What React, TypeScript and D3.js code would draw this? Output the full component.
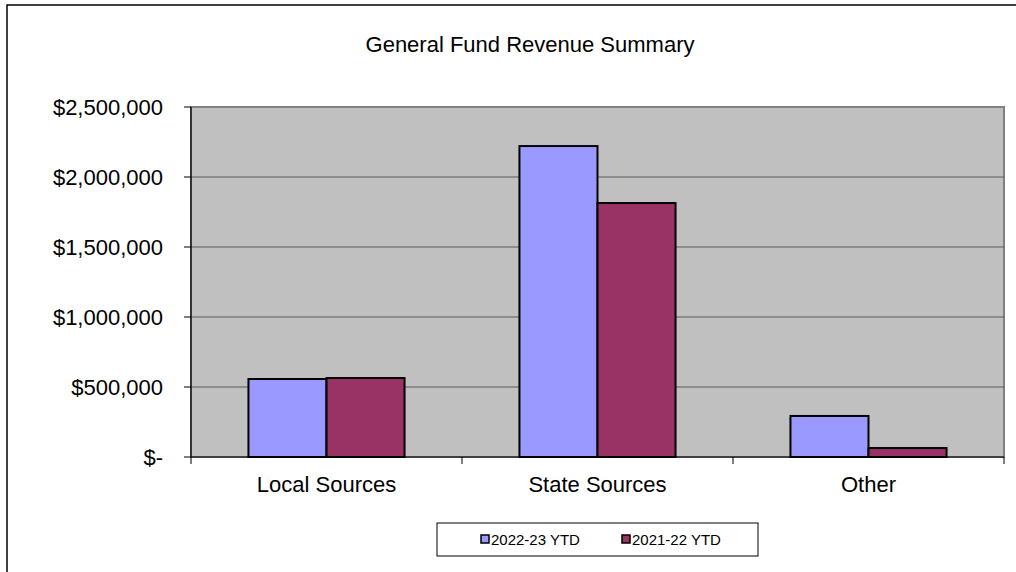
import React, { useEffect, useRef } from 'react';
import * as d3 from 'd3';

const categories = ['Local Sources', 'State Sources', 'Other'];
const seriesNames = ['2022-23 YTD', '2021-22 YTD'];
const current = [557000, 2221000, 293000];
const prior = [564000, 1814000, 64000];
const yTicks = [0, 500000, 1000000, 1500000, 2000000, 2500000];
const colors = ['#9999FF', '#993366'];

const font = 'Arial, "Liberation Sans", sans-serif';

const App: React.FC = () => {
  const svgRef = useRef<SVGSVGElement>(null);
  const width = 1016;
  const height = 572;

  useEffect(() => {
    if (!svgRef.current) return;
    const svg = d3.select(svgRef.current);
    svg.selectAll('*').remove();

    const plot = { left: 191, right: 1004, top: 107, bottom: 457 };

    // outer chart border (extends off right/bottom)
    svg.append('rect')
      .attr('x', 7).attr('y', 5)
      .attr('width', width + 10).attr('height', height + 10)
      .attr('fill', '#fff').attr('stroke', '#000').attr('stroke-width', 1.5);

    svg.append('text')
      .attr('x', 530).attr('y', 52)
      .attr('text-anchor', 'middle')
      .attr('font-family', font).attr('font-size', 22)
      .text('General Fund Revenue Summary');

    const x = d3.scaleBand().domain(categories).range([plot.left, plot.right]);
    const y = d3.scaleLinear().domain([0, 2500000]).range([plot.bottom, plot.top]);
    const barW = x.bandwidth() * 0.288;

    // plot area
    svg.append('rect')
      .attr('x', plot.left).attr('y', plot.top)
      .attr('width', plot.right - plot.left).attr('height', plot.bottom - plot.top)
      .attr('fill', '#C0C0C0').attr('stroke', '#808080').attr('stroke-width', 2);

    // gridlines
    yTicks.slice(1, -1).forEach(t => {
      svg.append('line')
        .attr('x1', plot.left).attr('x2', plot.right)
        .attr('y1', y(t)).attr('y2', y(t))
        .attr('stroke', '#5a5a5a').attr('stroke-width', 1.2);
    });

    // y-axis
    svg.append('line')
      .attr('x1', plot.left).attr('x2', plot.left)
      .attr('y1', plot.top).attr('y2', plot.bottom)
      .attr('stroke', '#000').attr('stroke-width', 1.2);
    yTicks.forEach(t => {
      svg.append('line')
        .attr('x1', plot.left - 7).attr('x2', plot.left)
        .attr('y1', y(t)).attr('y2', y(t))
        .attr('stroke', '#000').attr('stroke-width', 1);
      svg.append('text')
        .attr('x', 163).attr('y', y(t) + 8)
        .attr('text-anchor', 'end')
        .attr('font-family', font).attr('font-size', 22)
        .text(t === 0 ? '$-' : d3.format('$,')(t));
    });

    // bars
    const series = [current, prior];
    series.forEach((vals, si) => {
      categories.forEach((c, i) => {
        const cx = (x(c) as number) + x.bandwidth() / 2;
        const bx = cx - barW + si * barW;
        svg.append('rect')
          .attr('x', bx).attr('y', y(vals[i]))
          .attr('width', barW).attr('height', y(0) - y(vals[i]))
          .attr('fill', colors[si]).attr('stroke', '#000').attr('stroke-width', 2);
      });
    });

    // x-axis
    svg.append('line')
      .attr('x1', plot.left).attr('x2', plot.right)
      .attr('y1', plot.bottom).attr('y2', plot.bottom)
      .attr('stroke', '#000').attr('stroke-width', 1.2);
    [...categories.map(c => x(c) as number), plot.right].forEach(px => {
      svg.append('line')
        .attr('x1', px).attr('x2', px)
        .attr('y1', plot.bottom).attr('y2', plot.bottom + 7)
        .attr('stroke', '#000').attr('stroke-width', 1);
    });
    categories.forEach(c => {
      svg.append('text')
        .attr('x', (x(c) as number) + x.bandwidth() / 2).attr('y', 492)
        .attr('text-anchor', 'middle')
        .attr('font-family', font).attr('font-size', 22)
        .text(c);
    });

    // legend
    const lg = svg.append('g');
    lg.append('rect')
      .attr('x', 437).attr('y', 523).attr('width', 321).attr('height', 33)
      .attr('fill', '#fff').attr('stroke', '#000').attr('stroke-width', 1);
    const lx = [481, 622];
    seriesNames.forEach((n, i) => {
      lg.append('rect')
        .attr('x', lx[i]).attr('y', 535).attr('width', 8).attr('height', 8)
        .attr('fill', colors[i]).attr('stroke', '#000').attr('stroke-width', 1.5);
      lg.append('text')
        .attr('x', lx[i] + 10).attr('y', 545)
        .attr('font-family', font).attr('font-size', 15)
        .text(n);
    });
  }, []);

  return (
    <svg ref={svgRef} width={width} height={height}
      style={{ position: 'absolute', left: 0, top: 0 }} />
  );
};

export default App;
